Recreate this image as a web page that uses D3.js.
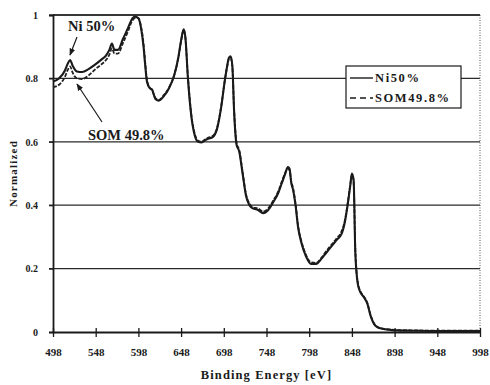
<!DOCTYPE html>
<html>
<head>
<meta charset="utf-8">
<script src="https://cdn.jsdelivr.net/npm/d3@7"></script>
<style>
  html, body { margin: 0; padding: 0; background: #fff; }
  svg text { font-family: "Liberation Serif", "Times New Roman", serif; font-weight: bold; fill: #1a1a1a; }
</style>
</head>
<body>
<div id="chart"></div>
<script>
// binding energy (eV)
const energy = [498, 505, 512, 515, 518, 521, 526, 532, 540, 548, 555, 560, 564, 567, 570, 574, 580, 586, 590, 594,
  598, 601, 604, 606, 608, 611, 614, 618, 622, 628, 634, 640, 645, 648, 651, 653, 656, 660, 664, 668,
  672, 676, 680, 685, 690, 695, 699, 702, 704, 706, 708, 710, 713, 716, 720, 724, 728, 732, 738, 744,
  750, 756, 762, 766, 770, 773, 775, 777, 779, 782, 785, 789, 794, 800, 806, 812, 818, 824, 830, 836,
  840, 843, 846, 848, 850, 852, 855, 858, 862, 866, 870, 874, 878, 884, 892, 900, 920, 950, 998];

const ni50 = [0.79, 0.80, 0.825, 0.845, 0.858, 0.84, 0.822, 0.82, 0.83, 0.845, 0.86, 0.872, 0.89, 0.91, 0.89, 0.89, 0.925, 0.96, 0.985, 0.995,
  0.99, 0.96, 0.9, 0.84, 0.79, 0.77, 0.765, 0.735, 0.73, 0.745, 0.77, 0.81, 0.87, 0.92, 0.955, 0.93, 0.8, 0.68, 0.62, 0.6,
  0.598, 0.605, 0.61, 0.615, 0.64, 0.71, 0.79, 0.84, 0.865, 0.87, 0.84, 0.7, 0.59, 0.57, 0.5, 0.43, 0.4, 0.39, 0.385, 0.375,
  0.385, 0.41, 0.44, 0.47, 0.5, 0.52, 0.515, 0.47, 0.45, 0.4, 0.33, 0.28, 0.24, 0.215, 0.215, 0.23, 0.25, 0.27, 0.29, 0.31,
  0.35, 0.4, 0.46, 0.5, 0.48, 0.25, 0.15, 0.125, 0.11, 0.09, 0.05, 0.025, 0.015, 0.01, 0.007, 0.005, 0.004, 0.003, 0.003];

const som498 = [0.772, 0.78, 0.805, 0.825, 0.838, 0.818, 0.80, 0.798, 0.81, 0.83, 0.845, 0.858, 0.875, 0.895, 0.878, 0.878, 0.912, 0.95, 0.978, 0.99,
  0.99, 0.965, 0.91, 0.85, 0.795, 0.772, 0.762, 0.738, 0.732, 0.748, 0.772, 0.812, 0.868, 0.918, 0.952, 0.928, 0.805, 0.685, 0.625, 0.603,
  0.6, 0.607, 0.613, 0.618, 0.643, 0.713, 0.79, 0.838, 0.862, 0.865, 0.838, 0.705, 0.595, 0.575, 0.505, 0.435, 0.405, 0.393, 0.39, 0.38,
  0.39, 0.415, 0.445, 0.475, 0.503, 0.515, 0.51, 0.475, 0.455, 0.405, 0.335, 0.285, 0.245, 0.22, 0.218, 0.233, 0.255, 0.275, 0.295, 0.318,
  0.355, 0.405, 0.462, 0.495, 0.475, 0.26, 0.155, 0.128, 0.112, 0.092, 0.052, 0.027, 0.016, 0.011, 0.008, 0.006, 0.005, 0.004, 0.004];

const xTicks = [498, 548, 598, 648, 698, 748, 798, 848, 898, 948, 998];
const yTicks = [0, 0.2, 0.4, 0.6, 0.8, 1];
const seriesNames = ['Ni50%', 'SOM49.8%'];

const width = 490, height = 385;
const margin = { top: 15, right: 10, bottom: 53, left: 53 };

const svg = d3.select('#chart')
  .append('svg')
  .attr('width', width)
  .attr('height', height);

const x = d3.scaleLinear()
  .domain([498, 998])
  .range([margin.left, width - margin.right]);

const y = d3.scaleLinear()
  .domain([0, 1])
  .range([height - margin.bottom, margin.top]);

// horizontal grid lines
svg.selectAll('.grid')
  .data(yTicks.filter(d => d > 0))
  .enter()
  .append('line')
  .attr('class', 'grid')
  .attr('x1', x(498) - 4)
  .attr('x2', x(998))
  .attr('y1', d => y(d))
  .attr('y2', d => y(d))
  .attr('stroke', '#2a2a2a')
  .attr('stroke-width', 1.2);

// dotted right border
svg.append('line')
  .attr('x1', x(998))
  .attr('x2', x(998))
  .attr('y1', y(1))
  .attr('y2', y(0))
  .attr('stroke', '#555')
  .attr('stroke-width', 1)
  .attr('stroke-dasharray', '1,1.5');

// y axis
const yAxis = svg.append('g')
  .attr('transform', `translate(${margin.left},0)`)
  .call(d3.axisLeft(y).tickValues(yTicks).tickSize(4).tickFormat(d => d3.format('')(d)));
yAxis.select('.domain').attr('stroke', '#1a1a1a').attr('stroke-width', 1.8);
yAxis.selectAll('.tick line').attr('stroke', '#1a1a1a').attr('stroke-width', 1.2);
yAxis.selectAll('text')
  .attr('x', -15)
  .style('font-size', '10px')
  .style('font-family', '"Liberation Serif", serif')
  .style('font-weight', 'bold');

// x axis
const xAxis = svg.append('g')
  .attr('transform', `translate(0,${y(0)})`)
  .call(d3.axisBottom(x).tickValues(xTicks).tickSizeInner(5).tickSizeOuter(0));
xAxis.select('.domain').attr('stroke', '#1a1a1a').attr('stroke-width', 2);
xAxis.selectAll('.tick line')
  .attr('y1', -4)
  .attr('y2', 5)
  .attr('stroke', '#1a1a1a')
  .attr('stroke-width', 1.3);
xAxis.selectAll('text')
  .attr('y', 16)
  .style('font-size', '11px')
  .style('font-family', '"Liberation Serif", serif')
  .style('font-weight', 'bold');

// axis titles
svg.append('text')
  .attr('x', (x(498) + x(998)) / 2)
  .attr('y', 379)
  .attr('text-anchor', 'middle')
  .style('font-size', '12.5px')
  .style('letter-spacing', '1.1px')
  .text('Binding Energy [eV]');

svg.append('text')
  .attr('transform', `translate(17,${y(0.5)}) rotate(-90)`)
  .attr('text-anchor', 'middle')
  .style('font-size', '11px')
  .style('letter-spacing', '1.2px')
  .text('Normalized');

// curves
const line = d3.line()
  .x((d, i) => x(energy[i]))
  .y(d => y(d))
  .curve(d3.curveMonotoneX);

svg.append('path')
  .attr('d', line(som498))
  .attr('fill', 'none')
  .attr('stroke', '#222')
  .attr('stroke-width', 1.8)
  .attr('stroke-dasharray', '4,1.5');

svg.append('path')
  .attr('d', line(ni50))
  .attr('fill', 'none')
  .attr('stroke', '#1a1a1a')
  .attr('stroke-width', 2.1);

// top border
svg.append('line')
  .attr('x1', x(498))
  .attr('x2', x(998))
  .attr('y1', y(1))
  .attr('y2', y(1))
  .attr('stroke', '#1a1a1a')
  .attr('stroke-width', 1.4);

// annotations
const arrow = svg.append('defs').append('marker')
  .attr('id', 'arrow')
  .attr('viewBox', '0 0 10 10')
  .attr('refX', 9)
  .attr('refY', 5)
  .attr('markerWidth', 6)
  .attr('markerHeight', 6)
  .attr('orient', 'auto');
arrow.append('path').attr('d', 'M0,1 L10,5 L0,9 Z').attr('fill', '#1a1a1a');

svg.append('text')
  .attr('x', 68)
  .attr('y', 31)
  .style('font-size', '14.5px')
  .text('Ni 50%');
svg.append('line')
  .attr('x1', 77).attr('y1', 37)
  .attr('x2', 70).attr('y2', 55)
  .attr('stroke', '#1a1a1a')
  .attr('stroke-width', 1.2)
  .attr('marker-end', 'url(#arrow)');

svg.append('text')
  .attr('x', 88)
  .attr('y', 140)
  .style('font-size', '14.5px')
  .text('SOM 49.8%');
svg.append('line')
  .attr('x1', 102).attr('y1', 122)
  .attr('x2', 77).attr('y2', 84)
  .attr('stroke', '#1a1a1a')
  .attr('stroke-width', 1.2)
  .attr('marker-end', 'url(#arrow)');

// legend
const legend = svg.append('g').attr('transform', 'translate(346,66)');
legend.append('rect')
  .attr('width', 115)
  .attr('height', 42)
  .attr('fill', '#fff')
  .attr('stroke', '#1a1a1a')
  .attr('stroke-width', 1.2);

legend.selectAll('.legend-line')
  .data(seriesNames)
  .enter()
  .append('line')
  .attr('class', 'legend-line')
  .attr('x1', 4)
  .attr('x2', 27)
  .attr('y1', (d, i) => 12 + i * 20)
  .attr('y2', (d, i) => 12 + i * 20)
  .attr('stroke', '#1a1a1a')
  .attr('stroke-width', 1.4)
  .attr('stroke-dasharray', (d, i) => i === 1 ? '6,4' : null);

legend.selectAll('.legend-label')
  .data(seriesNames)
  .enter()
  .append('text')
  .attr('class', 'legend-label')
  .attr('x', 29)
  .attr('y', (d, i) => 16 + i * 20)
  .style('font-size', '12.5px')
  .style('letter-spacing', '1.6px')
  .text(d => d);
</script>
</body>
</html>
